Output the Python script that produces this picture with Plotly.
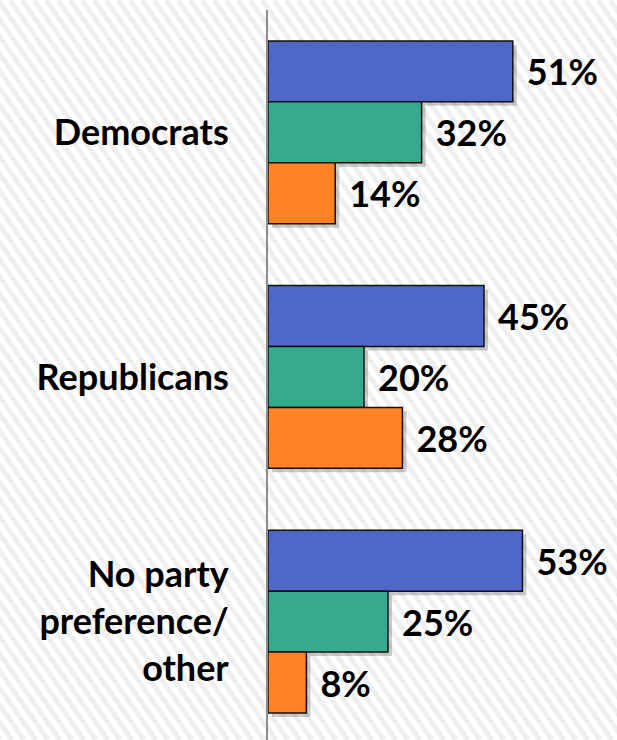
import plotly.graph_objects as go

# ---- data ----
categories = ["Democrats", "Republicans", "No party<br>preference/<br>other"]
series_names = ["Series 1", "Series 2", "Series 3"]
series_1 = [51, 45, 53]
series_2 = [32, 20, 25]
series_3 = [14, 28, 8]
all_series = [series_1, series_2, series_3]
colors = ["#4F67C7", "#35AB8B", "#FF8322"]

W, H = 617, 740
ML, MT = 268, 10
PW, PH = W - ML, H - MT
XMAX = 72.7
Y_RANGE = [2.484, -0.5]
px_per_x = PW / XMAX
px_per_y = PH / (Y_RANGE[0] - Y_RANGE[1])

FONT = dict(family="Lato, 'Open Sans', sans-serif", size=36, color="#000000", weight="bold")

fig = go.Figure()

# shadow bars (base subplot, offset ranges)
for name, vals in zip(series_names, all_series):
    fig.add_trace(go.Bar(
        x=vals, y=categories, orientation="h", name=name + " shadow",
        marker=dict(color="rgba(0,0,0,0.20)", line=dict(width=0)),
        xaxis="x", yaxis="y", hoverinfo="skip", showlegend=False,
    ))

# main bars
for name, vals, c in zip(series_names, all_series, colors):
    fig.add_trace(go.Bar(
        x=vals, y=categories, orientation="h", name=name,
        marker=dict(color=c, line=dict(color="#111111", width=1.5)),
        texttemplate="\u00a0\u200a%{x}%", textposition="outside",
        textfont=FONT, constraintext="none", cliponaxis=False,
        xaxis="x2", yaxis="y2", showlegend=False,
    ))

# background diagonal stripes (decoration), in pixel terms converted to paper coords
shapes = []
slope = 0.7
period = 12
x0 = -int(slope * H) - period
while x0 < W + period:
    xa, xb = x0, x0 + slope * H
    shapes.append(dict(
        type="line", xref="paper", yref="paper", layer="below",
        x0=(xa - ML) / PW, y0=(H - 0) / PH, x1=(xb - ML) / PW, y1=0,
        line=dict(color="#EFEFEF", width=5),
    ))
    x0 += period

dx = 4 / px_per_x
dy = 4 / px_per_y

fig.update_layout(
    width=W, height=H,
    margin=dict(l=ML, r=0, t=MT, b=0, pad=0),
    paper_bgcolor="white", plot_bgcolor="rgba(0,0,0,0)",
    barmode="group", bargap=0.253, bargroupgap=0,
    showlegend=False,
    shapes=shapes,
    xaxis=dict(range=[-dx, XMAX - dx], visible=False, fixedrange=True),
    yaxis=dict(range=[Y_RANGE[0] - dy, Y_RANGE[1] - dy], visible=False, fixedrange=True),
    xaxis2=dict(range=[0, XMAX], overlaying="x", anchor="y2", visible=False,
                showgrid=False, zeroline=False),
    yaxis2=dict(range=Y_RANGE, overlaying="y", anchor="x2", side="left",
                showline=True, linecolor="#8C8C8C", linewidth=2,
                showgrid=False, zeroline=False, ticks="",
                tickfont=FONT, ticklabelstandoff=30),
)

fig.write_html("out.html", config={"displayModeBar": False},
               post_script="document.body.style.margin='0';")
